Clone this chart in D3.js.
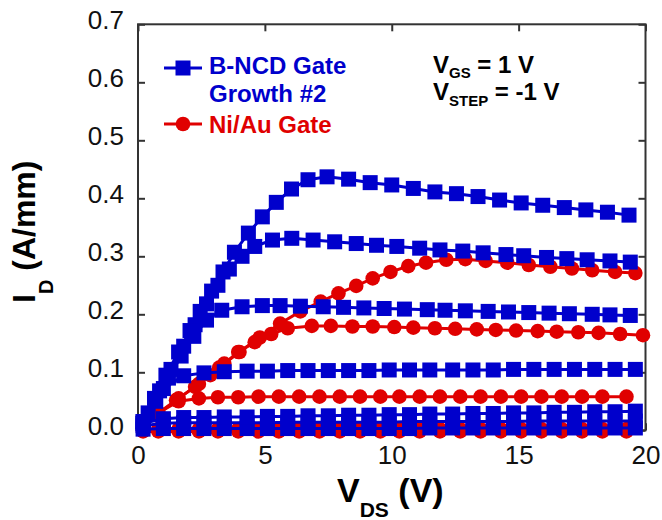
<!DOCTYPE html>
<html>
<head>
<meta charset="utf-8">
<script src="https://cdn.jsdelivr.net/npm/d3@7"></script>
<style>
  body { margin: 0; background: #fff; }
  text { font-family: "Liberation Sans", Arial, sans-serif; }
</style>
</head>
<body>
<svg id="chart" width="662" height="520"></svg>
<script>
// tick values
var xTicks = [0, 5, 10, 15, 20];
var yTicks = [0, 0.1, 0.2, 0.3, 0.4, 0.5, 0.6, 0.7];

// B-NCD gate, VGS = 1 V
var bncdVds1 = [0.2, 0.65, 1.1, 1.6, 2.05, 2.45, 2.9, 3.35, 3.8, 4.35, 4.9, 5.45, 6.05, 6.7, 7.45, 8.3, 9.15, 10.0, 10.85, 11.7, 12.55, 13.4, 14.25, 15.1, 15.95, 16.8, 17.65, 18.5, 19.35];
var bncdId1 = [0.015, 0.055, 0.095, 0.135, 0.172, 0.205, 0.24, 0.273, 0.307, 0.34, 0.368, 0.393, 0.416, 0.432, 0.437, 0.433, 0.427, 0.423, 0.417, 0.411, 0.408, 0.403, 0.397, 0.392, 0.388, 0.384, 0.380, 0.376, 0.371];
// VGS = 0 V
var bncdVds0 = [0.4, 0.85, 1.3, 1.8, 2.25, 2.7, 3.15, 3.6, 4.1, 4.6, 5.3, 6.06, 6.9, 7.75, 8.6, 9.4, 10.2, 11.1, 11.9, 12.8, 13.6, 14.5, 15.2, 16.1, 16.9, 17.7, 18.6, 19.4];
var bncdId0 = [0.03, 0.068, 0.105, 0.145, 0.182, 0.218, 0.25, 0.278, 0.3, 0.317, 0.328, 0.331, 0.328, 0.325, 0.322, 0.319, 0.317, 0.314, 0.311, 0.309, 0.306, 0.303, 0.301, 0.298, 0.296, 0.294, 0.292, 0.290];
// VGS = -1 V
var bncdVdsM1 = [0.2, 0.7, 1.2, 1.7, 2.2, 2.7, 3.3, 4.1, 4.9, 5.6, 6.4, 7.3, 8.1, 8.9, 9.7, 10.5, 11.4, 12.1, 12.9, 13.8, 14.6, 15.4, 16.2, 17.0, 17.9, 18.6, 19.4];
var bncdIdM1 = [0.012, 0.05, 0.09, 0.128, 0.162, 0.19, 0.207, 0.213, 0.215, 0.215, 0.214, 0.213, 0.212, 0.211, 0.210, 0.209, 0.208, 0.207, 0.206, 0.205, 0.204, 0.203, 0.202, 0.201, 0.200, 0.199, 0.198];
// VGS = -2 ... -5 V share one sweep
var bncdVdsLow = [0.2, 1.0, 1.8, 2.6, 3.4, 4.3, 5.1, 5.9, 6.7, 7.5, 8.3, 9.1, 9.9, 10.7, 11.5, 12.4, 13.2, 14.0, 14.8, 15.6, 16.4, 17.2, 18.0, 18.8, 19.6];
var bncdIdM2 = [0.015, 0.072, 0.094, 0.099, 0.101, 0.102, 0.102, 0.103, 0.103, 0.103, 0.103, 0.103, 0.104, 0.104, 0.104, 0.104, 0.104, 0.104, 0.105, 0.105, 0.105, 0.105, 0.105, 0.105, 0.105];
var bncdIdM3 = [0.012, 0.02, 0.022, 0.022, 0.023, 0.023, 0.024, 0.024, 0.025, 0.025, 0.026, 0.026, 0.027, 0.027, 0.028, 0.028, 0.029, 0.029, 0.030, 0.030, 0.031, 0.031, 0.032, 0.032, 0.033];
var bncdIdM4 = [0.008, 0.012, 0.013, 0.013, 0.013, 0.013, 0.013, 0.014, 0.014, 0.014, 0.014, 0.014, 0.014, 0.015, 0.015, 0.015, 0.015, 0.015, 0.015, 0.016, 0.016, 0.016, 0.016, 0.016, 0.016];
var bncdIdM5 = [0.002, 0.003, 0.003, 0.003, 0.003, 0.003, 0.003, 0.003, 0.003, 0.003, 0.003, 0.003, 0.003, 0.003, 0.004, 0.004, 0.004, 0.004, 0.004, 0.004, 0.004, 0.004, 0.004, 0.004, 0.004];

// Ni/Au gate, VGS = 1 V
var niauVds1 = [0.2, 0.8, 1.6, 2.4, 3.2, 4.0, 4.8, 5.6, 6.4, 7.2, 7.9, 8.6, 9.25, 9.95, 10.65, 11.35, 12.15, 12.9, 13.7, 14.55, 15.4, 16.25, 17.1, 17.9, 18.8, 19.6];
var niauId1 = [0.004, 0.03, 0.055, 0.08, 0.108, 0.135, 0.16, 0.184, 0.205, 0.222, 0.236, 0.249, 0.262, 0.273, 0.283, 0.289, 0.294, 0.295, 0.292, 0.289, 0.285, 0.282, 0.279, 0.276, 0.273, 0.271];
// VGS = 0 V
var niauVds0 = [0.2, 0.8, 1.5, 2.25, 2.85, 3.4, 3.95, 4.6, 5.25, 5.9, 6.85, 7.6, 8.45, 9.25, 10.1, 10.85, 11.7, 12.5, 13.35, 14.1, 14.9, 15.75, 16.5, 17.35, 18.15, 19.0, 19.9];
var niauId0 = [0.004, 0.028, 0.052, 0.075, 0.095, 0.115, 0.135, 0.152, 0.166, 0.176, 0.180, 0.180, 0.179, 0.179, 0.178, 0.177, 0.176, 0.175, 0.174, 0.173, 0.172, 0.171, 0.170, 0.169, 0.168, 0.166, 0.164];
// VGS = -1 ... -3 V share one sweep
var niauVdsLow = [0.2, 0.8, 1.6, 2.4, 3.15, 3.95, 4.75, 5.55, 6.35, 7.15, 7.95, 8.75, 9.55, 10.3, 11.1, 11.9, 12.7, 13.5, 14.3, 15.1, 15.9, 16.7, 17.5, 18.3, 19.25];
var niauIdM1 = [0.004, 0.03, 0.05, 0.055, 0.057, 0.057, 0.058, 0.058, 0.058, 0.058, 0.058, 0.058, 0.058, 0.058, 0.058, 0.058, 0.058, 0.058, 0.058, 0.058, 0.058, 0.058, 0.058, 0.058, 0.058];
var niauIdM2 = [0.001, 0.002, 0.002, 0.002, 0.002, 0.002, 0.002, 0.002, 0.002, 0.002, 0.002, 0.002, 0.002, 0.002, 0.002, 0.002, 0.002, 0.002, 0.002, 0.002, 0.002, 0.002, 0.002, 0.002, 0.002];
var niauIdM3 = [-0.002, -0.002, -0.002, -0.002, -0.002, -0.002, -0.002, -0.002, -0.002, -0.002, -0.002, -0.002, -0.002, -0.002, -0.002, -0.002, -0.002, -0.002, -0.002, -0.002, -0.002, -0.002, -0.002, -0.002, -0.002];

var blue = "#0000cc";
var red = "#e00000";

var svg = d3.select("#chart");

var x = d3.scaleLinear().domain([0, 20]).range([138, 645.5]);
var y = d3.scaleLinear().domain([0, 0.7]).range([430.3, 24.3]);

// plot frame
svg.append("rect")
  .attr("x", x(0))
  .attr("y", y(0.7))
  .attr("width", x(20) - x(0))
  .attr("height", y(0) - y(0.7))
  .attr("fill", "none")
  .attr("stroke", "#333")
  .attr("stroke-width", 2);

function styleAxis(g) {
  g.select(".domain").remove();
  g.selectAll(".tick line").attr("stroke", "#333").attr("stroke-width", 2);
  g.selectAll(".tick text")
    .attr("fill", "#111")
    .style("font-size", "26px");
}

svg.append("g")
  .attr("transform", `translate(0, ${y(0)})`)
  .call(d3.axisBottom(x).tickValues(xTicks).tickSize(-7).tickPadding(15).tickFormat(d3.format("d")))
  .call(styleAxis);

svg.append("g")
  .attr("transform", `translate(0, ${y(0.7)})`)
  .call(d3.axisTop(x).tickValues(xTicks).tickSize(-7).tickFormat(""))
  .call(styleAxis);

svg.append("g")
  .attr("transform", `translate(${x(0)}, 0)`)
  .call(d3.axisLeft(y).tickValues(yTicks).tickSize(-7).tickPadding(14).tickFormat(d3.format(".1f")))
  .call(styleAxis)
  .selectAll(".tick text").attr("dy", "0.17em");

svg.append("g")
  .attr("transform", `translate(${x(20)}, 0)`)
  .call(d3.axisRight(y).tickValues(yTicks).tickSize(-7).tickFormat(""))
  .call(styleAxis);

var line = d3.line()
  .x(d => x(d[0]))
  .y(d => y(d[1]));

var niauCurves = [
  d3.zip(niauVdsLow, niauIdM3),
  d3.zip(niauVdsLow, niauIdM2),
  d3.zip(niauVdsLow, niauIdM1),
  d3.zip(niauVds0, niauId0),
  d3.zip(niauVds1, niauId1)
];
var bncdCurves = [
  d3.zip(bncdVdsLow, bncdIdM5),
  d3.zip(bncdVdsLow, bncdIdM4),
  d3.zip(bncdVdsLow, bncdIdM3),
  d3.zip(bncdVdsLow, bncdIdM2),
  d3.zip(bncdVdsM1, bncdIdM1),
  d3.zip(bncdVds0, bncdId0),
  d3.zip(bncdVds1, bncdId1)
];

var sq = 15;
var rad = 7.3;

// Ni/Au curves first, B-NCD on top
var redGroup = svg.append("g");
niauCurves.forEach(function(curve) {
  redGroup.append("path")
    .attr("d", line(curve))
    .attr("fill", "none")
    .attr("stroke", red)
    .attr("stroke-width", 3);
  redGroup.selectAll(null)
    .data(curve)
    .enter()
    .append("circle")
    .attr("cx", d => x(d[0]))
    .attr("cy", d => y(d[1]))
    .attr("r", rad)
    .attr("fill", red);
});

var blueGroup = svg.append("g");
bncdCurves.forEach(function(curve) {
  blueGroup.append("path")
    .attr("d", line(curve))
    .attr("fill", "none")
    .attr("stroke", blue)
    .attr("stroke-width", 3);
  blueGroup.selectAll(null)
    .data(curve)
    .enter()
    .append("rect")
    .attr("x", d => x(d[0]) - sq / 2)
    .attr("y", d => y(d[1]) - sq / 2)
    .attr("width", sq)
    .attr("height", sq)
    .attr("fill", blue);
});

// legend
var legend = svg.append("g");
legend.append("line")
  .attr("x1", 164).attr("x2", 202).attr("y1", 68).attr("y2", 68)
  .attr("stroke", blue).attr("stroke-width", 3);
legend.append("rect")
  .attr("x", 183 - sq / 2).attr("y", 68 - sq / 2)
  .attr("width", sq).attr("height", sq)
  .attr("fill", blue);
legend.append("text")
  .attr("x", 209).attr("y", 74)
  .attr("fill", blue)
  .style("font-size", "24px").style("font-weight", "bold")
  .text("B-NCD Gate");
legend.append("text")
  .attr("x", 209).attr("y", 102)
  .attr("fill", blue)
  .style("font-size", "24px").style("font-weight", "bold")
  .text("Growth #2");

legend.append("line")
  .attr("x1", 164).attr("x2", 202).attr("y1", 124).attr("y2", 124)
  .attr("stroke", red).attr("stroke-width", 3);
legend.append("circle")
  .attr("cx", 183).attr("cy", 124).attr("r", rad)
  .attr("fill", red);
legend.append("text")
  .attr("x", 209).attr("y", 133)
  .attr("fill", red)
  .style("font-size", "24px").style("font-weight", "bold")
  .text("Ni/Au Gate");

// bias annotation
function subText(xPos, yPos, main, sub, rest, size, subSize, shift) {
  var t = svg.append("text")
    .attr("x", xPos).attr("y", yPos)
    .attr("fill", "#000")
    .style("font-weight", "bold")
    .style("font-size", size + "px");
  t.append("tspan").text(main);
  t.append("tspan").attr("dy", shift).style("font-size", subSize + "px").text(sub);
  t.append("tspan").attr("dy", -shift).style("font-size", size + "px").text(rest);
  return t;
}
subText(433, 73, "V", "GS", " = 1 V", 24, 15, 5);
subText(433, 100, "V", "STEP", " = -1 V", 24, 15, 6);

// axis titles
subText(337, 502, "V", "DS", " (V)", 34, 21, 15);
subText(0, 0, "I", "D", " (A/mm)", 32, 20, 18)
  .attr("transform", "translate(35, 303) rotate(-90)");
</script>
</body>
</html>
